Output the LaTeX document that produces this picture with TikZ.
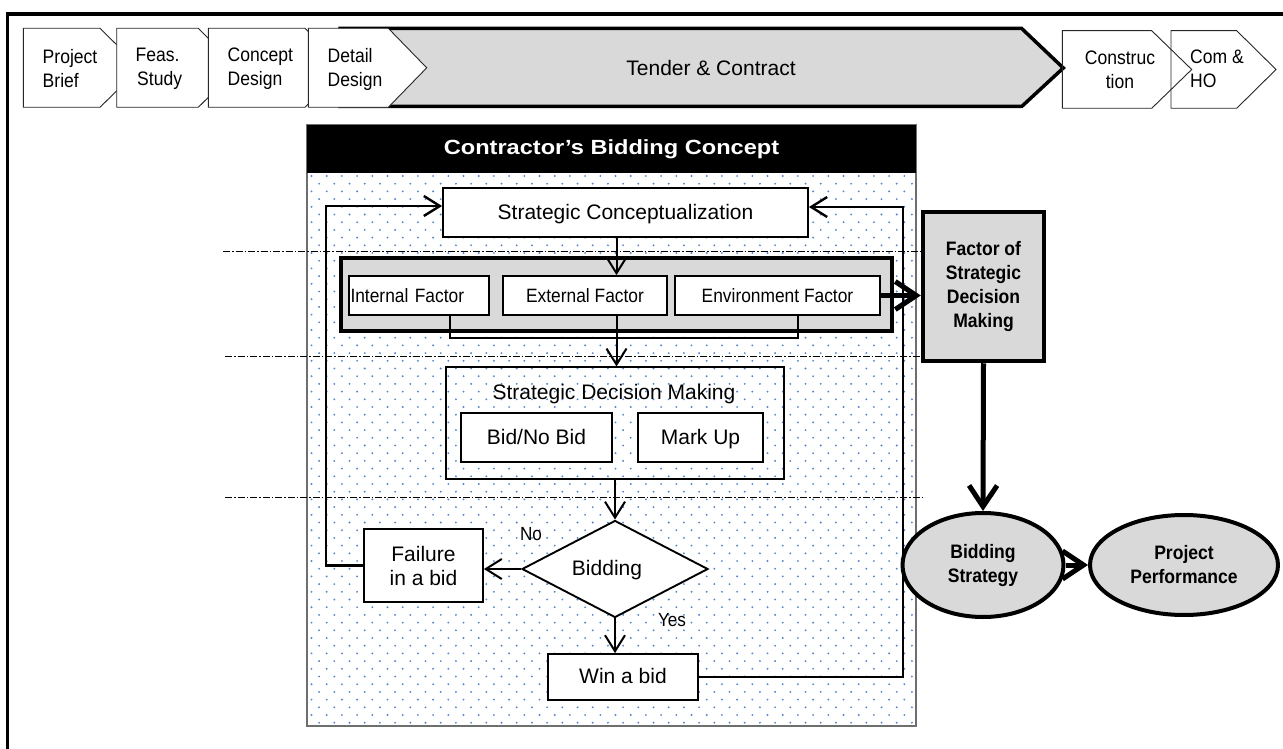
\documentclass[tikz,border=0pt]{standalone}
\usepackage{fontspec}
\setmainfont{Liberation Sans}
\newfontfamily\nfont[FakeStretch=0.9]{Liberation Sans}
\newfontfamily\hfont[FakeStretch=1.15]{Liberation Sans}
\usetikzlibrary{shapes.geometric,arrows.meta,calc}
\definecolor{gfill}{RGB}{217,217,217}
\definecolor{dotc}{RGB}{88,132,208}
\definecolor{pborder}{RGB}{110,110,110}
\tikzset{
  chev/.style={draw=black!85, line width=0.9pt, fill=white},
  chevtxt/.style={inner sep=0pt, align=left, font=\nfont\fontsize{19.5}{24}\selectfont},
  wbox/.style={draw, fill=white, line width=1.8pt, inner sep=0pt, font=\fontsize{21}{24}\selectfont},
  fbox/.style={draw, fill=white, line width=1.8pt, inner sep=0pt, font=\nfont\fontsize{19.3}{24}\selectfont},
  one/.style={text height=15pt, text depth=1.5pt},
  gbox/.style={draw, fill=gfill, line width=4.5pt, inner sep=0pt},
  gell/.style={ellipse, draw, fill=gfill, line width=4pt, inner sep=0pt, align=center, font=\nfont\bfseries\fontsize{19.5}{24}\selectfont},
  lbl/.style={inner sep=0pt, font=\nfont\fontsize{19}{22}\selectfont},
  arr/.style={-{Straight Barb[length=16pt,width=20pt]}, line width=2pt},
  fline/.style={line width=2.4pt},
  tarr/.style={-{Straight Barb[length=21pt,width=28pt]}, line width=5pt},
  dashdot/.style={line width=0.8pt, dash pattern=on 7pt off 2pt on 1.5pt off 2pt}
}
\begin{document}
\begin{tikzpicture}[x=1pt,y=-1pt]
\useasboundingbox (0,0) rectangle (1283,749);
% outer frame (cropped)
\draw[line width=3.5pt] (7.5,800) -- (7.5,14) -- (1300,14);

% phase chevrons
\draw[line width=3.5pt, fill=gfill] (340,28.5) -- (1021.7,28.5) -- (1063.3,68) -- (1021.7,106.5) -- (340,106.5) -- cycle;
\draw[chev] (23.3,28.3) -- (100,28.3) -- (140,67.8) -- (100,107.3) -- (23.3,107.3) -- cycle;
\draw[chev] (116.7,28.3) -- (198.3,28.3) -- (238,67.8) -- (198.3,107.3) -- (116.7,107.3) -- cycle;
\draw[chev] (208.3,28.3) -- (305,28.3) -- (345,67.8) -- (305,107.3) -- (208.3,107.3) -- cycle;
\draw[chev] (308.3,28.3) -- (388.3,28.3) -- (426.7,67.8) -- (388.3,107.3) -- (308.3,107.3) -- cycle;
\draw[chev, fill=none] (1062.3,30.7) -- (1151.7,30.7) -- (1191.7,69.5) -- (1151.7,108.3) -- (1062.3,108.3) -- cycle;
\draw[chev, fill=none] (1171,30.7) -- (1236.7,30.7) -- (1276,69.5) -- (1236.7,108.3) -- (1171,108.3) -- cycle;
\node[chevtxt, anchor=west] (p1) at (42.5,69) {Project\\Brief};
\node[chevtxt, anchor=west] (p2) at (135.5,69) {Feas.\\\hspace*{1.5pt}Study};
\node[chevtxt, anchor=west] (p3) at (227.5,69) {Concept\\Design};
\node[chevtxt, anchor=west] (p4) at (327.5,69) {Detail\\Design};
\node[inner sep=0pt, font=\fontsize{21}{24}\selectfont] (p5) at (711,68) {Tender \& Contract};
\node[chevtxt, align=center] (p6) at (1120,70) {Construc\\tion};
\node[chevtxt, anchor=west] (p7) at (1190,69) {Com \&\\HO};

% panel
\fill[white] (307,125) rectangle (916,726);
\begin{scope}
\clip (307,173) rectangle (916,726);
\foreach \r in {0,...,72}{
  \pgfmathsetmacro{\yy}{176+7.7*\r}
  \pgfmathsetmacro{\off}{mod(\r,2)*7.6}
  \foreach \c in {0,...,40}{
    \fill[dotc] ({311.5+\off+15.2*\c},\yy) circle (1.05);
  }
}
\end{scope}
\draw[pborder, line width=1.2pt] (307,125) rectangle (916,726);
\fill[black] (307,125) rectangle (916,173);
\node[text=white, inner sep=0pt, font=\hfont\bfseries\fontsize{20.5}{24}\selectfont] (hdr) at (611.5,149) {Contractor’s Bidding Concept};

% dash-dot guide lines
\draw[dashdot] (223,251) -- (922,251);
\draw[dashdot] (225,356) -- (920,356);
\draw[dashdot] (225,497) -- (925,497);

% boxes
\node[wbox, one, minimum width=365pt, minimum height=49pt] (sc) at (625.5,212.5) {Strategic Conceptualization};
\node[gbox, minimum width=551pt, minimum height=73pt] (grey) at (616.5,294.5) {};
\node[fbox, one, minimum width=140pt, minimum height=39pt, text width=137pt, align=left] (intf) at (419,295.5) {Internal Factor};
\node[fbox, one, minimum width=164pt, minimum height=39pt] (extf) at (585,295.5) {External Factor};
\node[fbox, one, minimum width=205pt, minimum height=39pt] (envf) at (777.5,295.5) {Environment Factor};
\node[draw, line width=1.1pt, minimum width=338pt, minimum height=112pt, inner sep=0pt] (sdm) at (615,423) {};
\node[inner sep=0pt, one, font=\fontsize{21}{24}\selectfont] (sdmt) at (614,393) {Strategic Decision Making};
\node[wbox, one, minimum width=151pt, minimum height=49pt] (bid) at (536.5,437.5) {Bid/No Bid};
\node[wbox, one, minimum width=125pt, minimum height=49pt] (mark) at (700.5,437.5) {Mark Up};
\node[diamond, draw, fill=white, line width=1.9pt, minimum width=186pt, minimum height=97pt, inner sep=0pt, one, font=\fontsize{21}{24}\selectfont] (dia) at (615,569) {\hspace*{-16pt}Bidding};
\node[wbox, minimum width=119pt, minimum height=73pt, align=center] (fail) at (423.5,565.5) {Failure\\in a bid};
\node[wbox, one, minimum width=150pt, minimum height=46pt] (win) at (623,677) {Win a bid};
\node[lbl] (no) at (531,534) {No};
\node[lbl] (yes) at (672,620) {Yes};

% right side
\node[gbox, minimum width=121pt, minimum height=149pt, align=center, font=\nfont\bfseries\fontsize{19.5}{24.3}\selectfont] (fsdm) at (983.5,286.5) {Factor of\\Strategic\\Decision\\Making};
\node[gell, minimum width=161pt, minimum height=104pt] (bs) at (983,565) {Bidding\\Strategy};
\node[gell, minimum width=188pt, minimum height=100pt] (pp) at (1184,565) {Project\\Performance};

% connectors
\coordinate (brL) at (450,338);
\coordinate (brR) at (798,338);
\coordinate (lf) at (326,206);
\coordinate (rf) at (903,207);
\draw[arr] (sc.south -| grey.north) -- (extf.north -| grey.north);
\draw[line width=2pt] (intf.south -| brL) -- (brL) -- (brR) -- (envf.south -| brR);
\draw[arr] (extf.south -| grey.south) -- (sdm.north -| grey.south);
\draw[arr] (sdm.south) -- (dia.north);
\draw[arr] (dia.west) -- (dia.west -| fail.east);
\draw[arr] (dia.south) -- (dia.south |- win.north);
\draw[arr, fline] (fail.west) -- (fail.west -| lf) -- (lf) -- (lf -| sc.west);
\draw[arr, fline] (win.east) -- (win.east -| rf) -- (rf) -- (rf -| sc.east);
\draw[tarr] (envf.east) -- (envf.east -| fsdm.west);
\draw[tarr] (fsdm.south) -- (bs.north);
\draw[tarr] (bs.east) -- (pp.west);
\end{tikzpicture}
\end{document}
